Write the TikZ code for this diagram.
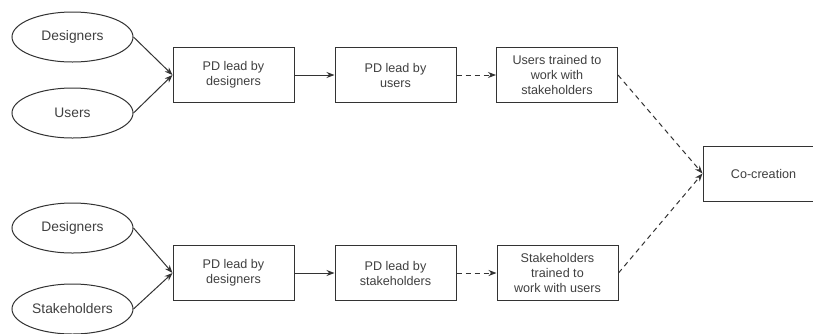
\documentclass[tikz,border=0pt]{standalone}
\usepackage{fontspec}
\setmainfont{Liberation Sans}
\usetikzlibrary{shapes.geometric,arrows.meta}
\definecolor{ink}{HTML}{333333}
\definecolor{txt}{HTML}{404040}
\begin{document}
\begin{tikzpicture}[x=1pt,y=-1pt,
  actor/.style={ellipse, draw=ink, line width=1pt, minimum width=121pt,
    minimum height=50pt, inner sep=0pt, text=txt,
    font=\fontsize{13.8}{16}\selectfont},
  stage/.style={rectangle, draw=ink, line width=1pt, minimum width=121pt,
    minimum height=55pt, inner sep=0pt, align=center, text=txt,
    font=\fontsize{12.6}{15}\selectfont},
  flow/.style={draw=ink, line width=1pt, -{Stealth[length=8pt,width=6pt]}},
  weak/.style={flow, dash pattern=on 5pt off 4pt}]
\fill[white] (0,0) rectangle (813,333);
\useasboundingbox (0,0) rectangle (813,333);
\clip (0,0) rectangle (813,333);

% upper track: designers and users
\node[actor] (ud) at (72.5,37) {Designers};
\node[actor] (uu) at (72.5,113) {Users};
\node[stage] (b1) at (233.5,75) {PD lead by\\designers};
\node[stage] (b2) at (395.5,75) {PD lead by\\users};
\node[stage] (b3) at (557,75) {Users trained to\\work with\\stakeholders};

% lower track: designers and stakeholders
\node[actor] (ld) at (72.5,228) {Designers};
\node[actor] (ls) at (72.5,309) {Stakeholders};
\node[stage] (c1) at (233.5,273) {PD lead by\\designers};
\node[stage] (c2) at (395.5,273) {PD lead by\\stakeholders};
\node[stage] (c3) at (557.5,273) {Stakeholders\\trained to\\work with users};

% shared outcome
\node[stage] (co) at (763.5,173.5) {Co-creation};

\draw[flow] (ud.east) -- (b1.west);
\draw[flow] (uu.east) -- (b1.west);
\draw[flow] (b1) -- (b2);
\draw[weak] (b2) -- (b3);
\draw[weak] (b3.east) -- (co.west);

\draw[flow] (ld.east) -- (c1.west);
\draw[flow] (ls.east) -- (c1.west);
\draw[flow] (c1) -- (c2);
\draw[weak] (c2) -- (c3);
\draw[weak] (c3.east) -- (co.west);
\end{tikzpicture}
\end{document}
